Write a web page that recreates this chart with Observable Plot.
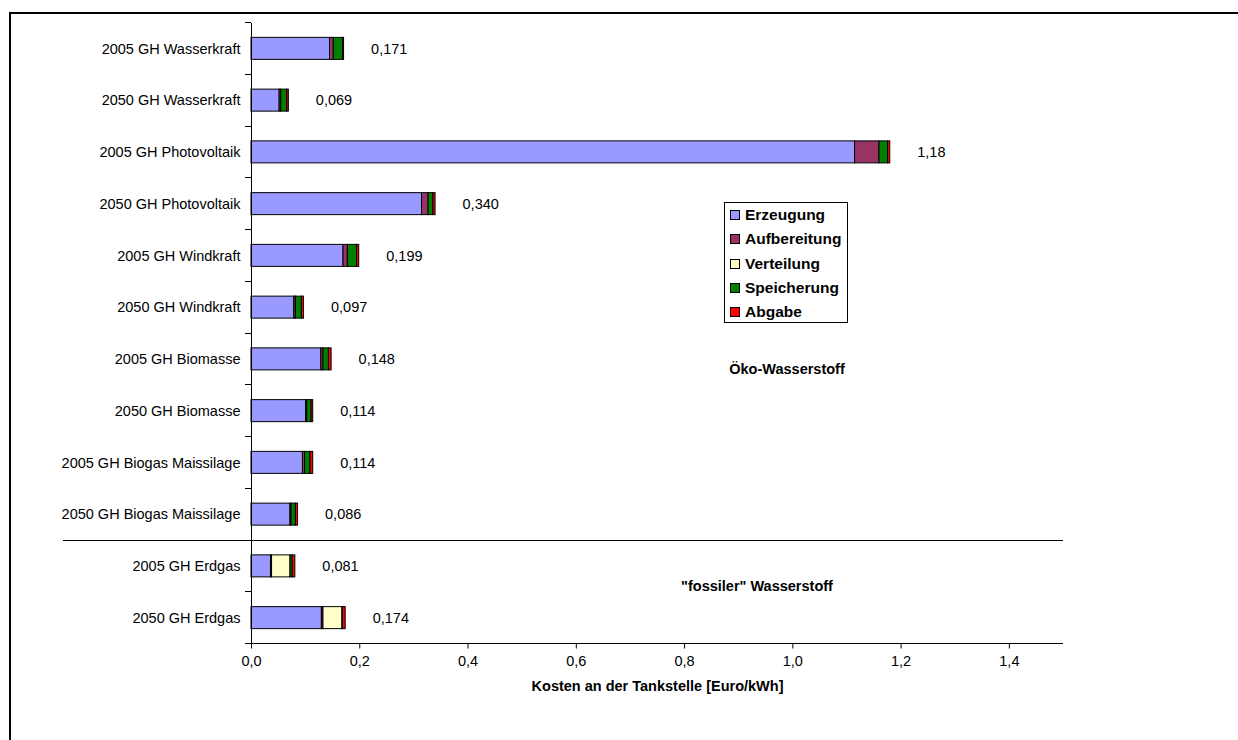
<!DOCTYPE html>
<html><head><meta charset="utf-8">
<script src="https://cdn.jsdelivr.net/npm/d3@7"></script>
<script src="https://cdn.jsdelivr.net/npm/@observablehq/plot@0.6"></script>
<style>
body{margin:0;background:#fff;font-family:"Liberation Sans",Arial,sans-serif;}
#wrap{position:relative;width:1238px;height:740px;overflow:hidden;background:#fff;}
#frame{position:absolute;left:9px;top:12px;width:1300px;height:800px;border:2px solid #000;box-sizing:border-box;pointer-events:none;}
#legend{position:absolute;left:724px;top:202px;width:124px;height:121px;border:1px solid #000;box-sizing:border-box;background:#fff;}
.li{position:absolute;left:5px;height:18px;display:flex;align-items:center;font-weight:bold;font-size:15.5px;white-space:nowrap;}
.sw{width:8px;height:8px;border:1px solid #000;margin-right:5px;flex:none;}
.note{position:absolute;font-weight:bold;font-size:14.5px;transform:translate(-50%,-50%);white-space:nowrap;}
</style>
</head><body>
<div id="wrap">
<div id="chart"></div>
<div id="legend"></div>
<div class="note" id="n1"></div>
<div class="note" id="n2"></div>
<div id="frame"></div>
</div>
<script>
const categories = ["2005 GH Wasserkraft","2050 GH Wasserkraft","2005 GH Photovoltaik","2050 GH Photovoltaik","2005 GH Windkraft","2050 GH Windkraft","2005 GH Biomasse","2050 GH Biomasse","2005 GH Biogas Maissilage","2050 GH Biogas Maissilage","2005 GH Erdgas","2050 GH Erdgas"];
const seriesNames = ["Erzeugung","Aufbereitung","Verteilung","Speicherung","Abgabe"];
const seriesColors = ["#9999FF","#993366","#FFFFCC","#008000","#FF0000"];
const erzeugung    = [0.145,0.052,1.115,0.315,0.170,0.079,0.129,0.101,0.095,0.072,0.036,0.130];
const aufbereitung = [0.007,0.003,0.045,0.012,0.008,0.003,0.004,0.002,0.004,0.002,0.002,0.003];
const verteilung   = [0,0,0,0,0,0,0,0,0,0,0.034,0.035];
const speicherung  = [0.017,0.011,0.016,0.009,0.017,0.011,0.010,0.008,0.010,0.008,0.004,0.001];
const abgabe       = [0.002,0.003,0.004,0.004,0.004,0.004,0.005,0.003,0.005,0.004,0.005,0.005];
const totalLabels  = ["0,171","0,069","1,18","0,340","0,199","0,097","0,148","0,114","0,114","0,086","0,081","0,174"];
const xTicks = [0,0.2,0.4,0.6,0.8,1.0,1.2,1.4];
const xDomain = [0,1.5];
const xTitle = "Kosten an der Tankstelle [Euro/kWh]";
const groupNotes = ["Öko-Wasserstoff", "\"fossiler\" Wasserstoff"];

(function () {
const seriesValues = [erzeugung, aufbereitung, verteilung, speicherung, abgabe];
const rows = [];
categories.forEach((c, i) => {
  seriesNames.forEach((s, j) => {
    const v = seriesValues[j][i];
    if (v > 0) rows.push({cat: c, series: s, value: v});
  });
});
const totals = categories.map((c, i) => ({cat: c, total: d3.sum(seriesValues, a => a[i]), label: totalLabels[i]}));

const H = 740, mTop = 22.5, mBottom = 96.5;
const step = (H - mTop - mBottom) / categories.length;
const inset = (step - 22) / 2;
const fmt = d => d3.format(".1f")(d).replace(".", ",");

const chart = Plot.plot({
  width: 1238, height: H,
  marginLeft: 251, marginRight: 175, marginTop: mTop, marginBottom: mBottom,
  style: {fontFamily: "'Liberation Sans', Arial, sans-serif", fontSize: "14.5px", color: "#000", background: "transparent"},
  x: {domain: xDomain, ticks: xTicks, tickFormat: fmt, tickSize: 5, tickPadding: 7, label: null},
  y: {domain: categories, padding: 0, round: false, tickSize: 0, tickPadding: 11, label: null},
  color: {domain: seriesNames, range: seriesColors},
  marks: [
    Plot.barX(rows, Plot.stackX({x: "value", y: "cat", fill: "series", z: "series", stroke: "#000", strokeWidth: 1, insetTop: inset, insetBottom: inset})),
    Plot.text(totals, {x: "total", y: "cat", text: "label", textAnchor: "start", dx: 27, fill: "#000"}),
    Plot.text([xTitle], {frameAnchor: "bottom", dy: 47, fontWeight: "bold", fill: "#000"})
  ]
});
document.getElementById("chart").appendChild(chart);

const ys = chart.scale("y"), xs = chart.scale("x");
const bw = ys.bandwidth != null ? ys.bandwidth : step;
const n = categories.length;
const yTop = ys.apply(categories[0]);
const yBottom = ys.apply(categories[n - 1]) + bw;
const xl = xs.apply(0), xr = xs.apply(xDomain[1]);
const g = d3.select(chart).append("g").attr("stroke", "#000").attr("stroke-width", 1).attr("shape-rendering", "crispEdges");
g.append("line").attr("x1", xl).attr("x2", xl).attr("y1", yTop).attr("y2", yBottom);
g.append("line").attr("x1", xl).attr("x2", xr).attr("y1", yBottom).attr("y2", yBottom);
for (let i = 0; i <= n; i++) {
  const y = i < n ? ys.apply(categories[i]) : yBottom;
  g.append("line").attr("x1", xl - 6).attr("x2", xl).attr("y1", y).attr("y2", y);
}
const sepY = ys.apply(categories[10]);
g.append("line").attr("x1", 63).attr("x2", xr).attr("y1", sepY).attr("y2", sepY);

const lg = document.getElementById("legend");
seriesNames.forEach((s, i) => {
  const d = document.createElement("div");
  d.className = "li";
  d.style.top = (3 + i * 24.3) + "px";
  const sw = document.createElement("span");
  sw.className = "sw"; sw.style.background = seriesColors[i];
  d.appendChild(sw);
  d.appendChild(document.createTextNode(s));
  lg.appendChild(d);
});
const n1 = document.getElementById("n1"), n2 = document.getElementById("n2");
n1.textContent = groupNotes[0]; n1.style.left = "787px"; n1.style.top = "369px";
n2.textContent = groupNotes[1]; n2.style.left = "757px"; n2.style.top = "586px";
})();
</script>
</body></html>
